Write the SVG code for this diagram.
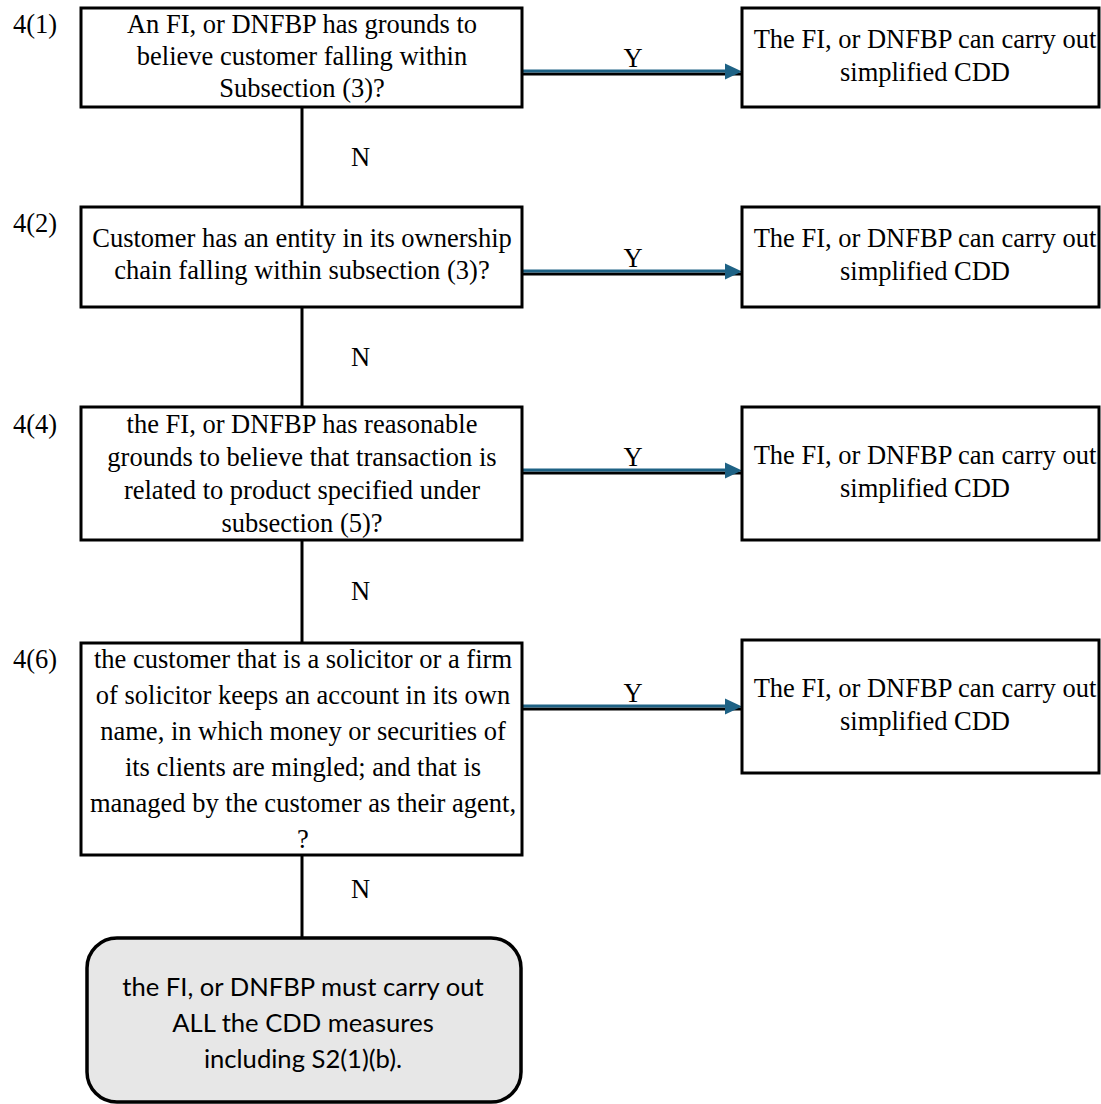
<svg xmlns="http://www.w3.org/2000/svg" width="1101" height="1104" viewBox="0 0 1101 1104">
<defs>
<style>
.box{fill:#fff;stroke:#000;stroke-width:3}
.end{fill:#e7e7e7;stroke:#000;stroke-width:3.5}
.t{font-family:"Liberation Serif","Times New Roman",serif;font-size:26.5px;fill:#000;text-anchor:middle}
.lbl{font-family:"Liberation Serif","Times New Roman",serif;font-size:26.5px;fill:#000}
.s{font-family:Lato,"Noto Sans",sans-serif;font-size:25.6px;fill:#000;text-anchor:middle}
.v{stroke:#000;stroke-width:3;fill:none}
.k{stroke:#000;stroke-width:3;fill:none}
.b{stroke:#1e6285;stroke-width:3;fill:none}
.ah{fill:#1e6285}
</style>
</defs>
<g id="connectors">
<line class="v" x1="302" y1="107" x2="302" y2="207"/>
<line class="v" x1="302" y1="307" x2="302" y2="407"/>
<line class="v" x1="302" y1="540" x2="302" y2="643"/>
<line class="v" x1="302" y1="855" x2="302" y2="938"/>
<text class="lbl" x="351" y="166">N</text>
<text class="lbl" x="351" y="366">N</text>
<text class="lbl" x="351" y="600">N</text>
<text class="lbl" x="351" y="898">N</text>
<g>
<line class="k" x1="522" y1="74" x2="742" y2="74"/>
<line class="b" x1="522" y1="71" x2="727" y2="71"/>
<polygon class="ah" points="725,63.5 742,71.5 725,79.5"/>
<text class="t" x="633" y="67">Y</text>
</g>
<g>
<line class="k" x1="522" y1="274" x2="742" y2="274"/>
<line class="b" x1="522" y1="271" x2="727" y2="271"/>
<polygon class="ah" points="725,263.5 742,271.5 725,279.5"/>
<text class="t" x="633" y="267">Y</text>
</g>
<g>
<line class="k" x1="522" y1="473" x2="742" y2="473"/>
<line class="b" x1="522" y1="470" x2="727" y2="470"/>
<polygon class="ah" points="725,462.5 742,470.5 725,478.5"/>
<text class="t" x="633" y="466">Y</text>
</g>
<g>
<line class="k" x1="522" y1="709" x2="742" y2="709"/>
<line class="b" x1="522" y1="706" x2="727" y2="706"/>
<polygon class="ah" points="725,698.5 742,706.5 725,714.5"/>
<text class="t" x="633" y="702">Y</text>
</g>
</g>
<g id="q1">
<text class="lbl" x="13" y="33">4(1)</text>
<rect class="box" x="81" y="8" width="441" height="99"/>
<text class="t" x="302" y="33">An FI, or DNFBP has grounds to</text>
<text class="t" x="302" y="65">believe customer falling within</text>
<text class="t" x="302" y="97">Subsection (3)?</text>
</g>
<g id="r1">
<rect class="box" x="742" y="8" width="357" height="99"/>
<text class="t" x="925" y="48">The FI, or DNFBP can carry out</text>
<text class="t" x="925" y="81">simplified CDD</text>
</g>
<g id="q2">
<text class="lbl" x="13" y="232">4(2)</text>
<rect class="box" x="81" y="207" width="441" height="100"/>
<text class="t" x="302" y="247">Customer has an entity in its ownership</text>
<text class="t" x="302" y="279">chain falling within subsection (3)?</text>
</g>
<g id="r2">
<rect class="box" x="742" y="207" width="357" height="100"/>
<text class="t" x="925" y="247">The FI, or DNFBP can carry out</text>
<text class="t" x="925" y="280">simplified CDD</text>
</g>
<g id="q3">
<text class="lbl" x="13" y="433">4(4)</text>
<rect class="box" x="81" y="407" width="441" height="133"/>
<text class="t" x="302" y="433">the FI, or DNFBP has reasonable</text>
<text class="t" x="302" y="466">grounds to believe that transaction is</text>
<text class="t" x="302" y="499">related to product specified under</text>
<text class="t" x="302" y="532">subsection (5)?</text>
</g>
<g id="r3">
<rect class="box" x="742" y="407" width="357" height="133"/>
<text class="t" x="925" y="464">The FI, or DNFBP can carry out</text>
<text class="t" x="925" y="497">simplified CDD</text>
</g>
<g id="q4">
<text class="lbl" x="13" y="668">4(6)</text>
<rect class="box" x="81" y="643" width="441" height="212"/>
<text class="t" x="303" y="668">the customer that is a solicitor or a firm</text>
<text class="t" x="303" y="704">of solicitor keeps an account in its own</text>
<text class="t" x="303" y="740">name, in which money or securities of</text>
<text class="t" x="303" y="776">its clients are mingled; and that is</text>
<text class="t" x="303" y="812">managed by the customer as their agent,</text>
<text class="t" x="303" y="848">?</text>
</g>
<g id="r4">
<rect class="box" x="742" y="640" width="357" height="133"/>
<text class="t" x="925" y="697">The FI, or DNFBP can carry out</text>
<text class="t" x="925" y="730">simplified CDD</text>
</g>
<g id="end">
<rect class="end" x="87" y="938" width="434" height="164" rx="30" ry="30"/>
<text class="s" x="303" y="996">the FI, or DNFBP must carry out</text>
<text class="s" x="303" y="1032">ALL the CDD measures</text>
<text class="s" x="303" y="1068">including S2(1)(b).</text>
</g>
</svg>
